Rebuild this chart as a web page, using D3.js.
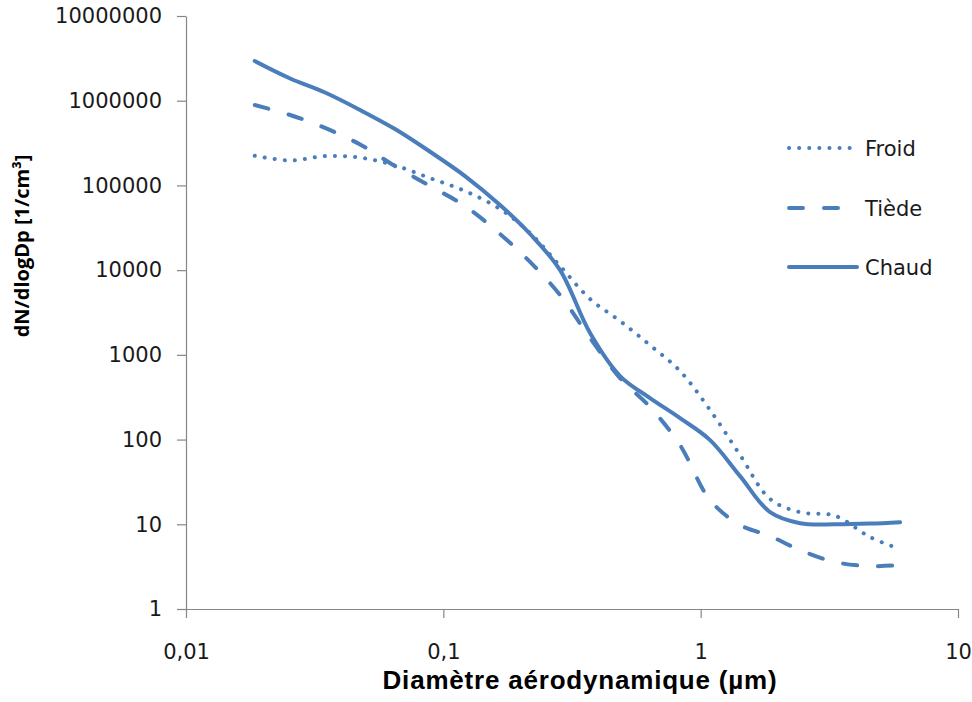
<!DOCTYPE html>
<html>
<head>
<meta charset="utf-8">
<script src="https://cdn.jsdelivr.net/npm/d3@7/dist/d3.min.js"></script>
<style>
  html, body { margin: 0; padding: 0; background: #ffffff; }
  svg { display: block; }
</style>
</head>
<body>
<svg id="chart" width="972" height="702"></svg>
<script>
// Aerodynamic diameter (µm)
const diameters = [0.0185, 0.0254, 0.0347, 0.0475, 0.0649, 0.0888, 0.1214, 0.1661, 0.2173, 0.2842,
                   0.3717, 0.4861, 0.6359, 0.8315, 1.088, 1.423, 1.861, 2.434, 3.33, 4.555, 5.957];
// dN/dlogDp [1/cm³]
const froid = [224000, 197000, 222000, 213000, 172000, 122000, 85900, 52600, 27400, 11200,
               4560, 2510, 1300, 644, 223, 65.6, 19.9, 13.9, 12.6, 7.06, 5.09];
const tiede = [890000, 678000, 477000, 304000, 169000, 98400, 57100, 26700, 12500, 5080,
               1580, 532, 242, 86, 19.3, 9.8, 7.26, 4.96, 3.58, 3.21, 3.30];
const chaud = [2940000, 1830000, 1250000, 777000, 463000, 250000, 129000, 58700, 26700, 10000,
               1808, 562, 309, 179, 98.6, 37, 13.9, 10.3, 10.0, 10.2, 10.6];

const seriesNames = ["Froid", "Tiède", "Chaud"];
const xTicks = [0.01, 0.1, 1, 10];
const xTickLabels = ["0,01", "0,1", "1", "10"];
const yTicks = [1, 10, 100, 1000, 10000, 100000, 1000000, 10000000];
const xTitle = "Diamètre aérodynamique (µm)";
const yTitle = "dN/dlogDp [1/cm³]";

const color = "#4a7ebb";
const axisColor = "#868686";
const tickFont = "'DejaVu Sans', sans-serif";

const svg = d3.select("#chart");
svg.append("rect").attr("width", 972).attr("height", 702).attr("fill", "#fff");

const x = d3.scaleLog().domain([0.01, 10]).range([186, 958]);
const y = d3.scaleLog().domain([1, 1e7]).range([609, 16]);

// Y axis
const yAxis = svg.append("g")
  .attr("transform", "translate(186,0)")
  .call(d3.axisLeft(y).tickValues(yTicks).tickFormat(d3.format("d")).tickSize(9).tickPadding(15).tickSizeOuter(0));
yAxis.select(".domain").attr("stroke", axisColor).attr("stroke-width", 1.2);
yAxis.selectAll(".tick line").attr("stroke", axisColor).attr("stroke-width", 1.2);
yAxis.selectAll(".tick text").attr("font-family", tickFont).attr("font-size", 21).attr("fill", "#1a1a1a");

// X axis
const xAxis = svg.append("g")
  .attr("transform", "translate(0,609)")
  .call(d3.axisBottom(x).tickValues(xTicks).tickFormat((d, i) => xTickLabels[i]).tickSize(9).tickSizeOuter(0));
xAxis.select(".domain").attr("stroke", axisColor).attr("stroke-width", 1.2);
xAxis.selectAll(".tick line").attr("stroke", axisColor).attr("stroke-width", 1.2);
xAxis.selectAll(".tick text").attr("font-family", tickFont).attr("font-size", 21).attr("fill", "#1a1a1a")
  .attr("y", 50).attr("dy", 0);

// Titles
svg.append("text")
  .attr("x", 580).attr("y", 689)
  .attr("text-anchor", "middle")
  .attr("font-family", "'Liberation Sans', Arial, sans-serif")
  .attr("font-weight", "bold").attr("font-size", 26)
  .attr("letter-spacing", 0.8)
  .attr("fill", "#000")
  .text(xTitle);

svg.append("text")
  .attr("transform", "translate(29,246) rotate(-90)")
  .attr("text-anchor", "middle")
  .attr("font-family", "'Open Sans', sans-serif")
  .attr("font-weight", "bold").attr("font-size", 20)
  .attr("fill", "#000")
  .text(yTitle);

// Lines
const styles = {
  "Froid": { dash: "0.1,10", width: 4 },
  "Tiède": { dash: "14,21", width: 4 },
  "Chaud": { dash: null, width: 4 }
};
const data = { "Froid": froid, "Tiède": tiede, "Chaud": chaud };

const line = d3.line()
  .x(d => x(d[0]))
  .y(d => y(d[1]))
  .curve(d3.curveCatmullRom.alpha(0.5));

seriesNames.forEach(name => {
  const pts = diameters.map((d, i) => [d, data[name][i]]);
  const p = svg.append("path")
    .datum(pts)
    .attr("d", line)
    .attr("fill", "none")
    .attr("stroke", color)
    .attr("stroke-width", styles[name].width)
    .attr("stroke-linecap", "round")
    .attr("stroke-linejoin", "round");
  if (styles[name].dash) p.attr("stroke-dasharray", styles[name].dash);
});

// Legend
const legendY = [148, 208, 267];
seriesNames.forEach((name, i) => {
  const g = svg.append("g").attr("transform", `translate(0,${legendY[i]})`);
  const l = g.append("line")
    .attr("x1", 789).attr("x2", 857).attr("y1", 0).attr("y2", 0)
    .attr("stroke", color)
    .attr("stroke-width", styles[name].width)
    .attr("stroke-linecap", "round");
  if (styles[name].dash) l.attr("stroke-dasharray", styles[name].dash);
  g.append("text")
    .attr("x", 865).attr("y", 0).attr("dy", "0.36em")
    .attr("font-family", tickFont).attr("font-size", 21).attr("fill", "#1a1a1a")
    .text(name);
});
</script>
</body>
</html>
